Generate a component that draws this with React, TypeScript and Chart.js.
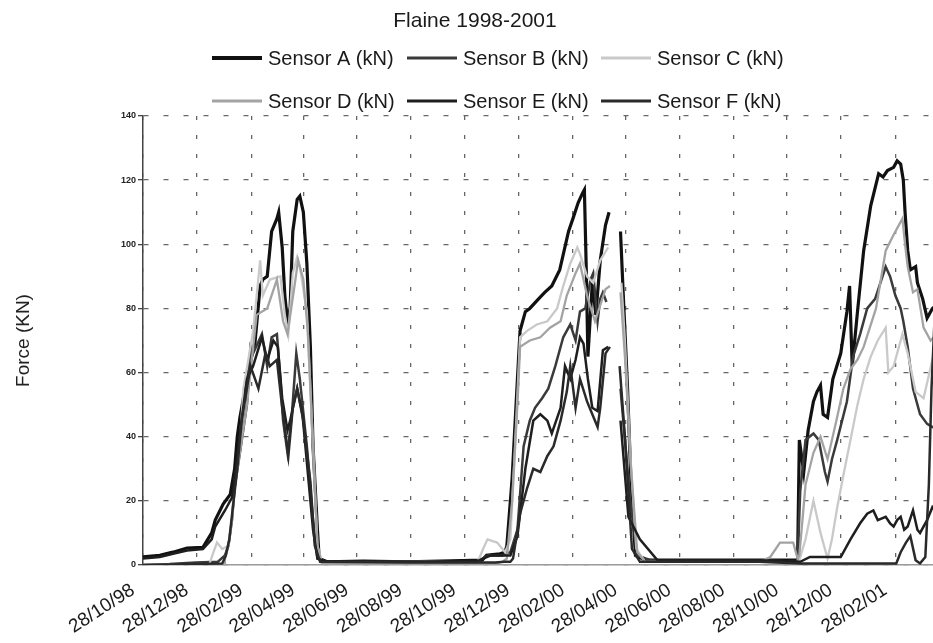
import React, { useEffect, useRef } from 'react';
import { Chart, registerables } from 'chart.js';

Chart.register(...registerables);

const FONT = '"Liberation Sans", Arial, Helvetica, sans-serif';

const TITLE = 'Flaine 1998-2001';
const Y_TITLE = 'Force (KN)';

// x values are days counted from 28/10/98
const TICK_DAYS = [0, 61, 123, 182, 243, 304, 365, 426, 488, 548, 609, 670, 731, 792, 854];
const TICK_LABELS = [
  '28/10/98', '28/12/98', '28/02/99', '28/04/99', '28/06/99', '28/08/99', '28/10/99',
  '28/12/99', '28/02/00', '28/04/00', '28/06/00', '28/08/00', '28/10/00', '28/12/00', '28/02/01',
];
const X_MAX = 916;
const Y_MAX = 140;
const Y_STEP = 20;

const SERIES_LABELS = [
  'Sensor A (kN)', 'Sensor B (kN)', 'Sensor C (kN)',
  'Sensor D (kN)', 'Sensor E (kN)', 'Sensor F (kN)',
];

type Pt = [number, number | null];

const SENSOR_A: Pt[] = [
  [0, 2.5], [19, 3], [34, 4], [50, 5.3], [68, 5.5], [78, 10], [82, 14], [91, 19], [99, 22], [104, 30],
  [107, 40], [110, 46], [118, 58], [124, 66], [127, 69], [133, 87], [136, 89], [141, 90], [146, 104],
  [152, 108], [154, 110], [158, 99], [161, 84], [164, 76], [167, 80], [170, 104], [175, 114], [178, 115],
  [182, 110], [186, 94], [190, 68], [193, 37], [198, 11], [200, 2], [209, 1],
  [250, 1.2], [300, 1], [350, 1.3], [385, 1.5], [390, 3], [405, 3.5], [411, 4],
  [413, 6], [419, 27], [425, 58], [428, 73], [434, 79], [439, 80], [449, 83], [456, 85], [464, 87],
  [473, 92], [483, 104], [488, 108], [494, 113], [499, 116], [501, 117], [503, 94], [505, 65], [510, 88],
  [514, 78], [519, 95], [525, 106], [529, 110], [535, null], [542, 104], [545, 85], [550, 55], [554, 25],
  [559, 3], [570, 1.5],
  [620, 1.5], [680, 1.5], [743, 1.5],
  [745, 39], [750, 29], [755, 42], [761, 51], [765, 54], [769, 56], [772, 47], [777, 46], [783, 58],
  [792, 66], [799, 79], [802, 87], [805, 62], [811, 79], [818, 98], [826, 112], [835, 122], [840, 121],
  [845, 123], [852, 124], [856, 126], [860, 125], [863, 120], [865, 110], [868, 98], [871, 92], [877, 93],
  [879, 88], [885, 83], [890, 77], [896, 80], [905, 82],
];

const SENSOR_B: Pt[] = [
  [0, 0], [30, 0.3], [60, 0.8], [85, 1], [93, 3], [97, 6], [101, 14], [104, 24], [110, 35], [118, 50],
  [122, 68], [125, 66], [135, 72], [141, 62], [146, 71], [152, 72], [156, 58], [159, 45], [164, 35],
  [169, 47], [174, 66], [178, 58], [186, 37], [193, 14], [198, 2], [207, 1],
  [260, 1], [320, 1.2], [380, 1.2], [392, 3], [408, 3],
  [417, 4], [425, 11], [432, 37], [439, 45], [445, 49], [453, 52], [460, 55], [468, 62], [477, 71],
  [485, 75], [491, 70], [496, 79], [502, 80], [508, 89], [511, 91], [516, 76], [519, 83], [522, 85],
  [526, 82], [535, null], [542, 55], [553, 20], [561, 3], [576, 1.5],
  [640, 1.5], [700, 1.5], [743, 1],
  [746, 23], [752, 39], [761, 41], [767, 39], [774, 29], [777, 26], [782, 33], [788, 39], [799, 51],
  [806, 65], [814, 72], [822, 80], [831, 83], [837, 88], [843, 93], [848, 90], [854, 84], [860, 80],
  [863, 76], [868, 68], [874, 55], [882, 47], [890, 44], [896, 43], [905, 44],
];

const SENSOR_C: Pt[] = [
  [0, 0], [75, 0], [80, 4], [84, 7], [90, 5], [97, 6], [101, 15], [104, 26], [110, 38], [114, 55],
  [125, 73], [133, 95], [136, 84], [144, 89], [156, 90], [161, 78], [165, 72], [170, 91], [175, 96],
  [178, 93], [186, 79], [193, 37], [198, 6], [203, 1],
  [260, 1], [320, 1], [380, 1], [386, 5], [391, 8], [402, 7], [411, 4],
  [417, 8], [422, 35], [428, 71], [436, 73], [447, 75], [459, 76], [470, 80], [477, 87], [485, 94],
  [493, 99], [496, 97], [504, 90], [511, 88], [519, 95], [528, 99], [535, null], [543, 88], [547, 70],
  [553, 35], [560, 5], [570, 1],
  [640, 1], [700, 1], [744, 0.5],
  [752, 8], [761, 20], [769, 10], [777, 2], [782, 8], [788, 18], [795, 28], [803, 39], [811, 50],
  [818, 58], [826, 65], [834, 70], [843, 74], [846, 60], [852, 62], [856, 66], [862, 72], [868, 66],
  [877, 54], [886, 52], [891, 58], [896, 64], [905, 62],
];

const SENSOR_D: Pt[] = [
  [0, 0], [92, 0], [93, 2], [97, 6], [101, 14], [104, 24], [110, 35], [118, 50], [129, 78], [141, 80],
  [152, 89], [159, 76], [164, 72], [173, 89], [176, 95], [182, 89], [187, 73], [193, 37], [198, 6],
  [203, 0.5],
  [300, 0.5], [400, 0.5], [408, 1],
  [413, 2], [419, 20], [425, 50], [428, 68], [439, 70], [451, 71], [462, 74], [474, 76], [481, 84],
  [491, 91], [496, 94], [504, 84], [513, 76], [525, 86], [530, 87], [535, null], [542, 85], [547, 65],
  [554, 30], [561, 4], [570, 1],
  [640, 1], [700, 1], [712, 2.5], [723, 7], [738, 7], [743, 2],
  [745, 3], [752, 25], [761, 35], [769, 40], [777, 33], [787, 45], [795, 55], [803, 61], [811, 64],
  [818, 68], [832, 80], [843, 98], [852, 103], [862, 108], [865, 100], [868, 93], [874, 85], [879, 86],
  [886, 74], [894, 70], [905, 73],
];

const SENSOR_E: Pt[] = [
  [0, 2], [19, 2.5], [34, 3.5], [50, 4.5], [68, 5], [78, 8], [82, 12], [93, 17], [101, 21], [104, 27],
  [110, 41], [118, 58], [125, 62], [135, 71], [141, 64], [148, 70], [153, 68], [158, 52], [164, 42],
  [167, 45], [175, 55], [181, 47], [186, 32], [193, 11], [198, 2], [207, 1.2],
  [260, 1.2], [320, 1], [380, 1.3], [395, 3], [410, 3],
  [417, 3], [425, 9], [434, 30], [443, 45], [451, 47], [459, 45], [464, 41], [474, 49], [479, 62],
  [485, 58], [491, 64], [496, 71], [500, 69], [505, 58], [510, 49], [516, 48], [522, 67], [528, 68],
  [535, null], [542, 45], [551, 15], [564, 8], [584, 1.5],
  [640, 1.5], [700, 1.5], [746, 1],
  [757, 2.5], [792, 2.5], [803, 8], [814, 13], [822, 16], [829, 17], [834, 14], [843, 15], [848, 13],
  [852, 12], [856, 14], [860, 15], [864, 11], [868, 12], [874, 17], [879, 11], [882, 10], [890, 14],
  [896, 18], [905, 15],
];

const SENSOR_F: Pt[] = [
  [0, 0], [90, 0.5], [94, 3], [98, 8], [102, 18], [107, 30], [112, 45], [122, 62], [131, 55], [139, 66],
  [144, 62], [152, 64], [158, 49], [165, 34], [170, 49], [175, 55], [182, 45], [190, 26], [195, 6],
  [201, 1],
  [300, 0.8], [400, 0.8], [410, 1],
  [417, 1], [420, 2], [428, 16], [436, 24], [443, 30], [451, 29], [459, 34], [466, 37], [474, 45],
  [481, 54], [485, 62], [491, 49], [496, 58], [504, 51], [510, 47], [516, 43], [519, 49], [525, 66],
  [530, 68], [535, null], [541, 62], [547, 40], [555, 5], [564, 1],
  [640, 1], [700, 1], [746, 0.5],
  [800, 0.5], [855, 0.5], [860, 4], [866, 7], [871, 9], [877, 1.5], [882, 0.5], [888, 2.5], [892, 25],
  [895, 55], [899, 80], [905, 82],
];

const SERIES_DATA = [SENSOR_A, SENSOR_B, SENSOR_C, SENSOR_D, SENSOR_E, SENSOR_F];
const SERIES_COLORS = ['#111111', '#3a3a3a', '#c9c9c9', '#a3a3a3', '#1e1e1e', '#2a2a2a'];
const SERIES_WIDTHS = [3.2, 2.5, 2.3, 2.3, 2.5, 2.5];

const CANVAS_W = 950;
const CANVAS_H = 643;

const headerPlugin = {
  id: 'headerLegend',
  afterDraw(chart: any) {
    const ctx = chart.ctx as CanvasRenderingContext2D;
    ctx.save();
    ctx.fillStyle = '#1a1a1a';
    ctx.textBaseline = 'middle';
    ctx.textAlign = 'center';
    ctx.font = `21px ${FONT}`;
    ctx.fillText(TITLE, 475, 21);
    const cols = [212, 407, 601];
    const rows = [58, 101];
    ctx.font = `20px ${FONT}`;
    ctx.textAlign = 'left';
    chart.data.datasets.forEach((ds: any, i: number) => {
      const x0 = cols[i % 3];
      const y = rows[Math.floor(i / 3)];
      ctx.strokeStyle = ds.borderColor;
      ctx.lineWidth = ds.borderWidth + 0.6;
      ctx.beginPath();
      ctx.moveTo(x0, y);
      ctx.lineTo(x0 + 50, y);
      ctx.stroke();
      ctx.fillStyle = '#1a1a1a';
      ctx.fillText(ds.label, x0 + 56, y + 1);
    });
    ctx.restore();
  },
};

export default function App() {
  const canvasRef = useRef<HTMLCanvasElement | null>(null);

  useEffect(() => {
    if (!canvasRef.current) return;
    const chart = new Chart(canvasRef.current, {
      type: 'line',
      data: {
        datasets: SERIES_DATA.map((pts, i) => ({
          label: SERIES_LABELS[i],
          data: pts.map(([x, y]) => ({ x, y })),
          borderColor: SERIES_COLORS[i],
          backgroundColor: SERIES_COLORS[i],
          borderWidth: SERIES_WIDTHS[i],
          pointRadius: 0,
          tension: 0,
          spanGaps: false,
          fill: false,
          order: 6 - i,
        })),
      },
      options: {
        responsive: false,
        animation: false,
        layout: { padding: { top: 116, left: 0, right: 0, bottom: 0 } },
        plugins: {
          legend: { display: false },
          title: { display: false },
          tooltip: { enabled: false },
        },
        scales: {
          x: {
            type: 'linear',
            min: 0,
            max: X_MAX,
            afterBuildTicks: (scale: any) => {
              scale.ticks = TICK_DAYS.map((v) => ({ value: v }));
            },
            afterFit: (scale: any) => {
              scale.height = CANVAS_H - 565;
            },
            ticks: {
              autoSkip: false,
              minRotation: 33,
              maxRotation: 33,
              labelOffset: -10,
              padding: 14,
              color: '#1a1a1a',
              font: { family: FONT, size: 19 },
              callback: (_v: any, i: number) => TICK_LABELS[i] ?? '',
            },
            grid: { color: '#666', lineWidth: 1.3, drawTicks: false },
            border: { display: true, color: '#9a9a9a', width: 1.5, dash: [4, 15] },
          },
          y: {
            min: 0,
            max: Y_MAX,
            afterFit: (scale: any) => {
              scale.width = 143;
            },
            ticks: {
              stepSize: Y_STEP,
              padding: 2,
              color: '#222',
              font: { family: FONT, size: 9, weight: 'bold' },
            },
            grid: { color: '#666', lineWidth: 1.3, tickLength: 5, tickColor: '#444' },
            border: { display: true, color: '#444', width: 1.5, dash: [5, 15] },
            title: {
              display: true,
              text: Y_TITLE,
              color: '#222',
              font: { family: FONT, size: 19 },
              padding: { top: 12, bottom: 0 },
            },
          },
        },
      },
      plugins: [headerPlugin],
    } as any);
    return () => chart.destroy();
  }, []);

  return (
    <div
      style={{
        position: 'absolute',
        left: 0,
        top: 0,
        width: 933,
        height: CANVAS_H,
        overflow: 'hidden',
        background: '#fff',
      }}
    >
      <canvas
        ref={canvasRef}
        width={CANVAS_W}
        height={CANVAS_H}
        style={{ display: 'block', width: CANVAS_W, height: CANVAS_H }}
      />
    </div>
  );
}
